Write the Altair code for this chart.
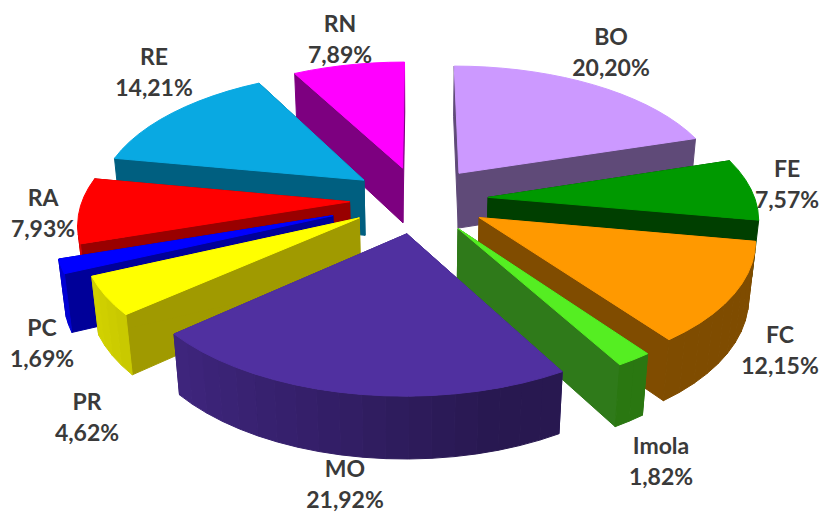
import math
import altair as alt
import pandas as pd

# chart values
provinces = ["BO", "FE", "FC", "Imola", "MO", "PR", "PC", "RA", "RE", "RN"]
shares = [20.20, 7.57, 12.15, 1.82, 21.92, 4.62, 1.69, 7.93, 14.21, 7.89]
top_colors = ["#CC99FF", "#009900", "#FF9900", "#55EE22", "#5030A0",
              "#FFFF00", "#0000FF", "#FF0000", "#09A9E2", "#FF00FF"]
wall_colors = ["#5F4A78", "#003F00", "#804C00", "#2F7A1A", "#3A2A78",
               "#A09A00", "#000099", "#990000", "#005F80", "#7D0080"]
explode = [0.26, 0.26, 0.26, 0.26, 0.26, 0.26, 0.34, 0.26, 0.26, 0.26]

# layout of the tilted pie
CX, CY, A, B, K, DEPTH = 419, 199.5, 267, 129, 0.14, 57
PAINT_ORDER = ["BO", "RN", "RE", "FE", "RA", "FC", "PC", "PR", "Imola", "MO"]
LABEL_POS = {"BO": (611, 38), "FE": (787, 170), "FC": (780, 336), "Imola": (661, 447),
             "MO": (345, 470), "PR": (87, 403), "PC": (42, 329), "RA": (43, 199),
             "RE": (154, 58), "RN": (340, 25)}
LINE_GAP = 31


def project(u, v, low=False):
    w = 1 + K * v + (0.02 if low else 0)
    return (CX + A * u / w, CY - B * v / w + (DEPTH / w if low else 0))


def shade(hex_color, f):
    r, g, b = (int(hex_color[i:i + 2], 16) for i in (1, 3, 5))
    return "#%02x%02x%02x" % (int(r * f), int(g * f), int(b * f))


total = sum(shares)
angles = {}
cum = 0.0
for name, s in zip(provinces, shares):
    angles[name] = (cum / total * 2 * math.pi, (cum + s) / total * 2 * math.pi)
    cum += s

rows = []
poly_id = 0


def add_poly(points, color):
    global poly_id
    for i, (x, y) in enumerate(points):
        rows.append({"poly": poly_id, "i": i, "x": x, "y": y, "color": color})
    poly_id += 1


for name in PAINT_ORDER:
    k = provinces.index(name)
    a0, a1 = angles[name]
    mid = (a0 + a1) / 2
    ou, ov = explode[k] * math.sin(mid), explode[k] * math.cos(mid)

    def rim(t):
        return ou + math.sin(t), ov + math.cos(t)

    for edge in (a0, a1):
        eu, ev = rim(edge)
        add_poly([project(ou, ov), project(eu, ev), project(eu, ev, True), project(ou, ov, True)],
                 wall_colors[k])
    n = max(2, int((a1 - a0) / math.radians(4)))
    ts = [a0 + (a1 - a0) * j / n for j in range(n + 1)]
    for t0, t1 in zip(ts, ts[1:]):
        tm = (t0 + t1) / 2
        pu, pv = rim(tm)
        # only the part of the rim that faces the viewer is drawn
        if math.sin(tm) * (-pu) + math.cos(tm) * (-1 / K - pv) <= 0:
            continue
        p0, p1 = rim(t0), rim(t1)
        f = max(0.5, 0.58 - 0.27 * math.sin(tm))
        add_poly([project(*p0), project(*p1), project(*p1, True), project(*p0, True)],
                 shade(top_colors[k], f))
    add_poly([project(ou, ov)] + [project(*rim(t)) for t in ts], top_colors[k])

shapes = pd.DataFrame(rows)

label_rows = []
for name, s in zip(provinces, shares):
    x, y = LABEL_POS[name]
    label_rows.append({"x": x, "y": y, "text": name})
    label_rows.append({"x": x, "y": y + LINE_GAP, "text": f"{s:.2f}".replace(".", ",") + "%"})
labels = pd.DataFrame(label_rows)

x_enc = alt.X("x:Q", axis=None, scale=alt.Scale(domain=[8, 819], nice=False, zero=False))
y_enc = alt.Y("y:Q", axis=None, scale=alt.Scale(domain=[512, 8], nice=False, zero=False))

pie = alt.Chart(shapes).mark_line(interpolate="linear-closed", strokeWidth=1).encode(
    x=x_enc, y=y_enc,
    fill=alt.Fill("color:N", scale=None),
    stroke=alt.Stroke("color:N", scale=None),
    detail=alt.Detail("poly:N"),
    order=alt.Order("i:Q"),
)
text = alt.Chart(labels).mark_text(font="Lato", fontSize=23, fontWeight="bold", color="#3a3a3a").encode(
    x=x_enc, y=y_enc, text="text:N",
)

chart = (pie + text).properties(
    width=811, height=504, padding=0, background="white",
    autosize=alt.AutoSizeParams(type="none"),
).configure_view(stroke=None)
chart.save("out.html", embed_options={"renderer": "svg", "actions": False})
